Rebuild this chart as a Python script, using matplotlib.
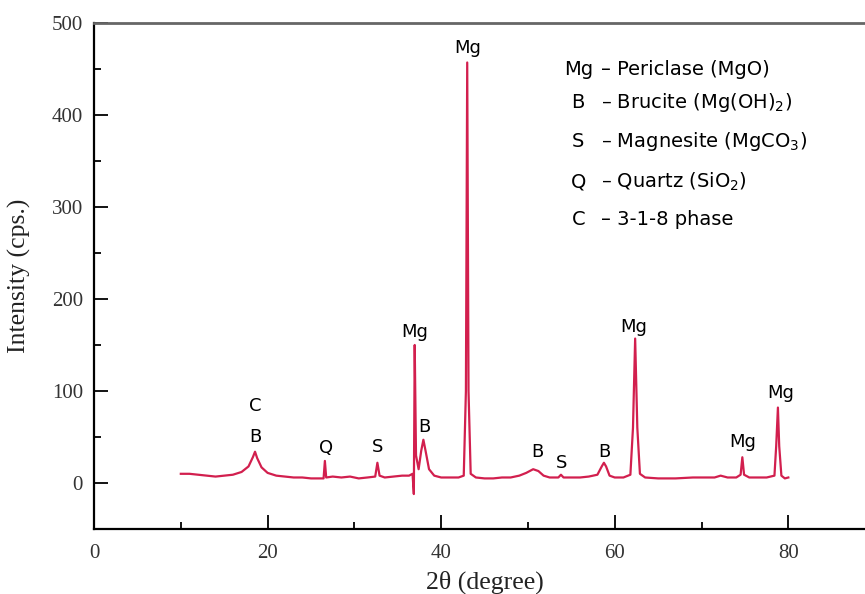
import matplotlib
matplotlib.use("Agg")
import matplotlib.pyplot as plt
from matplotlib.ticker import MultipleLocator

# XRD trace (2-theta in degree, intensity in cps)
two_theta = [
    10.0, 11.0, 12.0, 13.0, 14.0, 15.0, 16.0, 17.0, 17.8, 18.3, 18.55, 18.8,
    19.3, 20.0, 21.0, 22.0, 23.0, 24.0, 25.0, 26.0, 26.45, 26.6, 26.75, 27.5,
    28.5, 29.5, 30.5, 31.5, 32.4, 32.65, 32.9, 33.5, 34.5, 35.5, 36.3, 36.7,
    36.85, 36.95, 37.1, 37.4, 37.7, 37.95, 38.2, 38.6, 39.2, 40.0, 41.0, 42.0,
    42.6, 42.85, 43.0, 43.15, 43.4, 44.0, 45.0, 46.0, 47.0, 48.0, 49.0, 49.8,
    50.6, 51.2, 51.8, 52.5, 53.5, 53.8, 54.1, 55.0, 56.0, 57.0, 58.0, 58.5,
    58.75, 59.0, 59.4, 60.0, 61.0, 61.8, 62.1, 62.35, 62.6, 62.9, 63.5, 65.0,
    67.0, 69.0, 70.5, 71.5, 72.2, 73.0, 74.0, 74.5, 74.7, 74.9, 75.5, 76.5,
    77.5, 78.4, 78.6, 78.8, 78.95, 79.2, 79.6, 80.0,
]
intensity = [
    10, 10, 9, 8, 7, 8, 9, 12, 18, 28, 34, 27,
    17, 11, 8, 7, 6, 6, 5, 5, 5, 24, 6, 7,
    6, 7, 5, 6, 7, 22, 8, 6, 7, 8, 8, 10,
    -12, 150, 30, 15, 35, 47, 35, 15, 8, 6, 6, 6,
    8, 100, 457, 100, 10, 6, 5, 5, 6, 6, 8, 11,
    15, 13, 8, 6, 6, 9, 6, 6, 6, 7, 9, 18,
    22, 18, 8, 6, 6, 9, 60, 157, 60, 10, 6, 5,
    5, 6, 6, 6, 8, 6, 6, 9, 28, 9, 6, 6,
    6, 8, 40, 82, 40, 8, 5, 6,
]

# peak labels
peak_x = [18.55, 18.55, 26.7, 32.7, 37.0, 38.1, 43.1, 51.1, 53.9, 58.8, 62.2, 74.7, 79.1]
peak_y = [84, 50, 38, 39, 164, 61, 473, 34, 22, 34, 170, 45, 98]
peak_text = ["C", "B", "Q", "S", "Mg", "B", "Mg", "B", "S", "B", "Mg", "Mg", "Mg"]

# phase key
key_symbol = ["Mg", "B", "S", "Q", "C"]
key_name = [
    "Periclase (MgO)",
    "Brucite (Mg(OH)$_2$)",
    "Magnesite (MgCO$_3$)",
    "Quartz (SiO$_2$)",
    "3-1-8 phase",
]
key_y = [449, 413, 371, 327, 286]

line_color = "#d21f4e"
serif = ["Liberation Serif", "DejaVu Serif"]

fig = plt.figure(figsize=(8.65, 5.94), dpi=100)
ax = fig.add_axes([0.1087, 0.1094, 0.903, 0.852])

ax.plot(two_theta, intensity, color=line_color, linewidth=1.6)

for x, y, t in zip(peak_x, peak_y, peak_text):
    ax.text(x, y, t, ha="center", va="center", fontsize=13, family="DejaVu Sans")

for s, name, y in zip(key_symbol, key_name, key_y):
    ax.text(55.8, y, s, ha="center", va="center", fontsize=14, family="DejaVu Sans")
    ax.text(58.4, y, "\u2013 " + name, ha="left", va="center", fontsize=14,
            family="DejaVu Sans")

ax.set_xlim(0, 90)
ax.set_ylim(-50, 500)
ax.xaxis.set_major_locator(MultipleLocator(20))
ax.xaxis.set_minor_locator(MultipleLocator(10))
ax.yaxis.set_major_locator(MultipleLocator(100))
ax.yaxis.set_minor_locator(MultipleLocator(50))
ax.tick_params(which="both", direction="in", width=1.3, labelsize=15)
ax.tick_params(which="major", length=10)
ax.tick_params(which="minor", length=5)
ax.tick_params(axis="x", pad=11)
ax.tick_params(axis="y", pad=8)
for lab in ax.get_xticklabels() + ax.get_yticklabels():
    lab.set_family(serif)
    lab.set_color("#333333")

for side in ["left", "bottom"]:
    ax.spines[side].set_linewidth(1.6)
ax.spines["top"].set_linewidth(2.0)
ax.spines["top"].set_color("#666666")
ax.spines["right"].set_visible(False)

ax.set_xlabel("2\u03b8 (degree)", fontsize=18.5, family=serif, color="#222222", labelpad=5)
ax.set_ylabel("Intensity (cps.)", fontsize=18.5, family=serif, color="#222222", labelpad=15)

fig.savefig("out.png", dpi=100)
